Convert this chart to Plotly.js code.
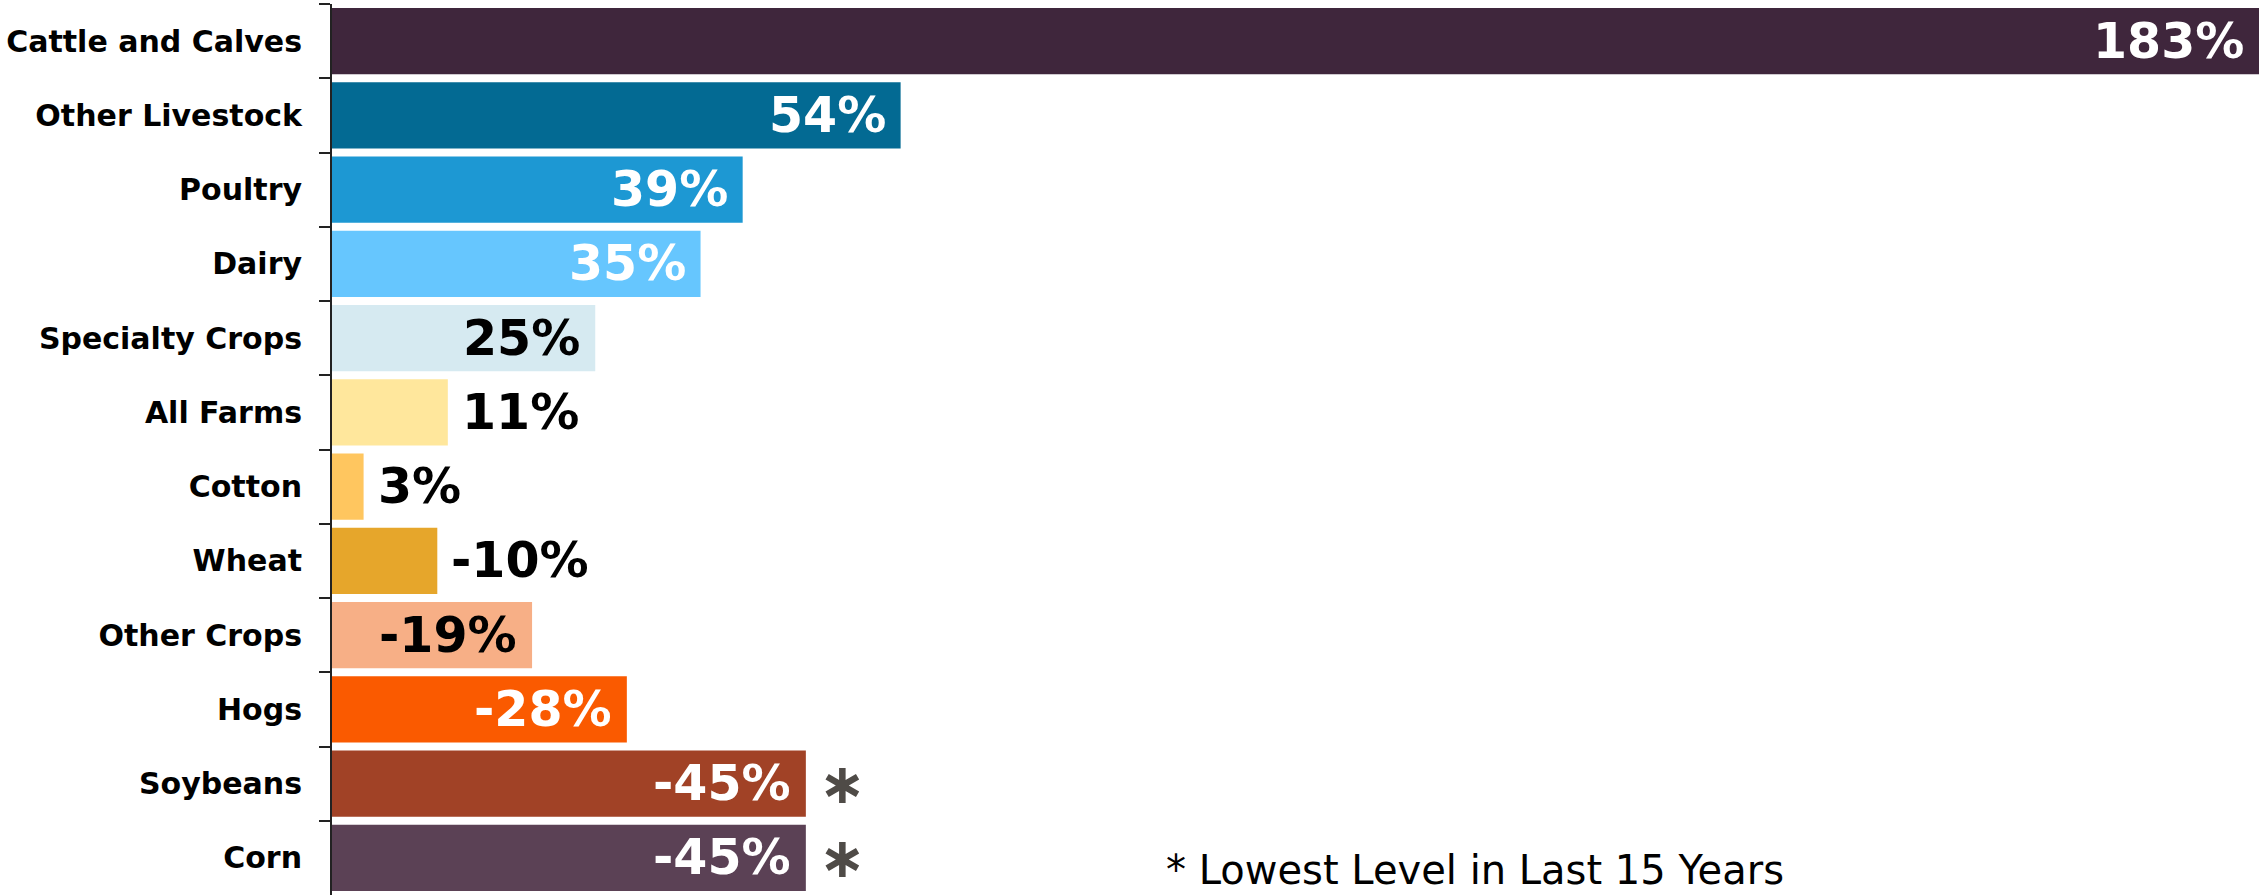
<!DOCTYPE html>
<html>
<head>
<meta charset="utf-8">
<script src="https://cdn.plot.ly/plotly-3.0.1.min.js"></script>
<style>
  html, body { margin: 0; padding: 0; background: #ffffff; }
  #chart { width: 2259px; height: 895px; }
</style>
</head>
<body>
<div id="chart"></div>
<script>
// ---- Data ----
const categories = [
  "Cattle and Calves", "Other Livestock", "Poultry", "Dairy", "Specialty Crops",
  "All Farms", "Cotton", "Wheat", "Other Crops", "Hogs", "Soybeans", "Corn"
];
const changePct = [183, 54, 39, 35, 25, 11, 3, -10, -19, -28, -45, -45];
const lowestIn15Years = [false, false, false, false, false, false, false, false, false, false, true, true];
const footnoteText = "* Lowest Level in Last 15 Years";

// ---- Styles ----
const barColors = [
  "#3F263C", "#036A93", "#1D98D3", "#66C6FE", "#D6EAF1",
  "#FFE79C", "#FFC65F", "#E6A62B", "#F7AF86", "#FA5A00", "#A14226", "#5B4155"
];
const FONT = "DejaVu Sans, Verdana, sans-serif";

function isDark(hex) {
  const r = parseInt(hex.slice(1, 3), 16), g = parseInt(hex.slice(3, 5), 16), b = parseInt(hex.slice(5, 7), 16);
  return (0.299 * r + 0.587 * g + 0.114 * b) < 185;
}

const magnitudes = changePct.map(v => Math.abs(v));
const labels = changePct.map(v => v + "%");

const annotations = [];
categories.forEach((c, i) => {
  const inside = magnitudes[i] >= 15;
  annotations.push({
    x: magnitudes[i], y: c, xref: "x", yref: "y",
    text: labels[i], showarrow: false,
    xanchor: inside ? "right" : "left",
    xshift: inside ? -13 : 12,
    yanchor: "middle",
    font: { family: FONT, size: 49, weight: "bold",
            color: inside && isDark(barColors[i]) ? "#ffffff" : "#000000" }
  });
  if (lowestIn15Years[i]) {
    annotations.push({
      x: magnitudes[i], y: c, xref: "x", yref: "y",
      text: "\u2217", showarrow: false,
      xanchor: "left", xshift: 11, yanchor: "middle", yshift: 0,
      font: { family: FONT, size: 56, weight: "bold", color: "#4F4B47" }
    });
  }
});
annotations.push({
  x: 0.432, y: 0.028, xref: "paper", yref: "paper",
  xanchor: "left", yanchor: "middle", showarrow: false,
  text: footnoteText,
  font: { family: FONT, size: 40, color: "#000000" }
});

const trace = {
  type: "bar",
  orientation: "h",
  x: magnitudes,
  y: categories,
  marker: { color: barColors, line: { width: 0 } },
  hoverinfo: "skip"
};

const layout = {
  width: 2259, height: 895,
  margin: { l: 332, r: 0, t: 4, b: 0, pad: 0 },
  paper_bgcolor: "#ffffff", plot_bgcolor: "#ffffff",
  showlegend: false,
  bargap: 0.11,
  xaxis: {
    range: [0, 183], visible: false, showgrid: false, zeroline: false, fixedrange: true
  },
  yaxis: {
    type: "category",
    autorange: "reversed",
    showline: true, linecolor: "#222222", linewidth: 2,
    ticks: "outside", ticklen: 11, tickwidth: 2, tickcolor: "#222222",
    tickson: "boundaries",
    showgrid: false, zeroline: false,
    automargin: false,
    ticklabelstandoff: 22,
    tickfont: { family: FONT, size: 30, weight: "bold", color: "#000000" },
    fixedrange: true
  },
  annotations: annotations
};

Plotly.newPlot("chart", [trace], layout, { displayModeBar: false, staticPlot: true });
</script>
</body>
</html>
